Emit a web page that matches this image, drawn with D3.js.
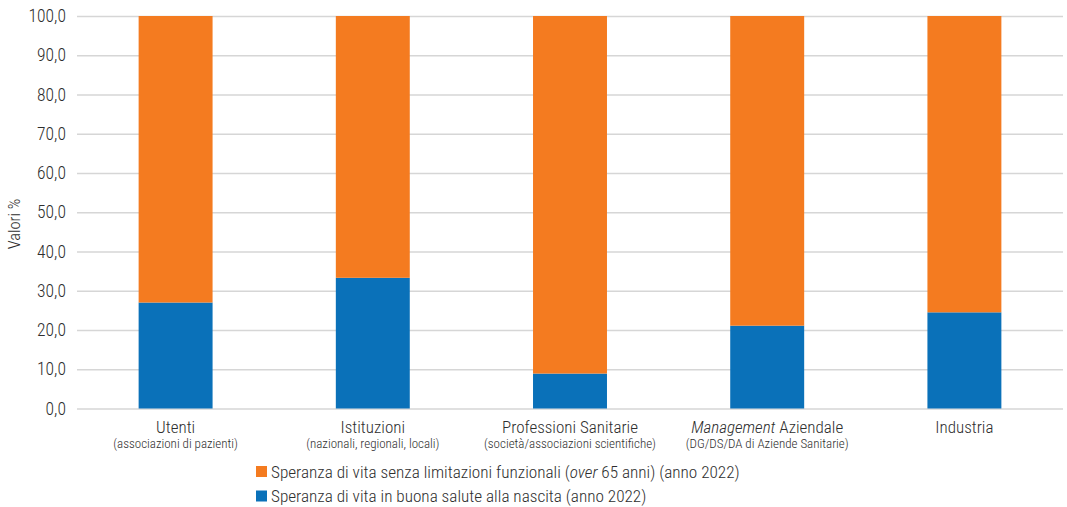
<!DOCTYPE html>
<html>
<head>
<meta charset="utf-8">
<script src="https://cdn.jsdelivr.net/npm/d3@7"></script>
<style>
  html, body { margin: 0; padding: 0; background: #fff; }
  svg text { font-family: "Liberation Sans Narrow", "Arial Narrow", "Roboto Condensed", sans-serif; fill: #2e2e2e; font-weight: 300; }
</style>
</head>
<body>
<svg id="chart" width="1067" height="507"></svg>
<script>
// Categories (main label + subtitle; the emphasised word is set in italics)
const categories = ["Utenti", "Istituzioni", "Professioni Sanitarie", "Management Aziendale", "Industria"];
const subtitles = ["(associazioni di pazienti)", "(nazionali, regionali, locali)", "(società/associazioni scientifiche)", "(DG/DS/DA di Aziende Sanitarie)", ""];
const italicWords = ["", "", "", "Management", ""];

// Series values (%)
const buonaSalute = [27.0, 33.3, 8.9, 21.1, 24.5];
const senzaLimitazioni = [73.0, 66.7, 91.1, 78.9, 75.5];

const seriesNames = [
  "Speranza di vita senza limitazioni funzionali (over 65 anni) (anno 2022)",
  "Speranza di vita in buona salute alla nascita (anno 2022)"
];
const yTicks = [0, 10, 20, 30, 40, 50, 60, 70, 80, 90, 100];

const colors = { orange: "#F47B20", blue: "#0A71B9" };

const svg = d3.select("#chart");
const margin = { left: 77, right: 4, top: 16, bottom: 98 };
const W = 1067, H = 507;

const x = d3.scaleBand().domain(categories)
  .range([margin.left, W - margin.right]).paddingInner(0.625).paddingOuter(0.3125);
const y = d3.scaleLinear().domain([0, 100]).range([408.5, margin.top]);

const fmt = v => d3.format(".1f")(v).replace(".", ",");

// Gridlines and y labels
const yAxis = d3.axisLeft(y).tickValues(yTicks).tickFormat(fmt)
  .tickSize(-(W - margin.right - margin.left)).tickPadding(11);
const gy = svg.append("g").attr("transform", `translate(${margin.left},0)`).call(yAxis);
gy.select(".domain").remove();
gy.selectAll(".tick line").attr("stroke", "#d6d6d6").attr("stroke-width", 1.5);
gy.selectAll(".tick text").style("font-size", "17.5px").attr("fill", "#2e2e2e").attr("font-family", null);

// Axis title
svg.append("text")
  .attr("transform", `translate(19.5,224) rotate(-90)`)
  .attr("text-anchor", "middle")
  .style("font-size", "16.5px")
  .text("Valori %");

// Stacked bars
const stackData = categories.map((c, i) => ({ cat: c, blue: buonaSalute[i], orange: senzaLimitazioni[i] }));
const stack = d3.stack().keys(["blue", "orange"])(stackData);

svg.append("g").selectAll("g").data(stack).join("g")
  .attr("fill", d => colors[d.key])
  .selectAll("rect").data(d => d).join("rect")
  .attr("x", d => x(d.data.cat))
  .attr("width", x.bandwidth())
  .attr("y", d => y(d[1]))
  .attr("height", d => y(d[0]) - y(d[1]));

// Category labels
const gx = svg.append("g");
categories.forEach((c, i) => {
  const cx = x(c) + x.bandwidth() / 2;
  const t = gx.append("text").attr("x", cx).attr("y", 433)
    .attr("text-anchor", "middle").style("font-size", "17px");
  if (italicWords[i]) {
    t.append("tspan").style("font-style", "italic").text(italicWords[i]);
    t.append("tspan").text(c.slice(italicWords[i].length));
  } else {
    t.text(c);
  }
  if (subtitles[i]) {
    gx.append("text").attr("x", cx).attr("y", 448)
      .attr("text-anchor", "middle").style("font-size", "13px").text(subtitles[i]);
  }
});

// Legend
const legend = svg.append("g");
const legendItems = [
  { color: colors.orange, parts: [["Speranza di vita senza limitazioni funzionali (", false], ["over", true], [" 65 anni) (anno 2022)", false]] },
  { color: colors.blue, parts: [[seriesNames[1], false]] }
];
legendItems.forEach((item, i) => {
  const yy = 466 + i * 24.5;
  legend.append("rect").attr("x", 256).attr("y", yy).attr("width", 11).attr("height", 11).attr("fill", item.color);
  const t = legend.append("text").attr("x", 271).attr("y", yy + 11.5).style("font-size", "17.2px");
  item.parts.forEach(([s, it]) => {
    t.append("tspan").style("font-style", it ? "italic" : "normal").text(s);
  });
});
</script>
</body>
</html>
